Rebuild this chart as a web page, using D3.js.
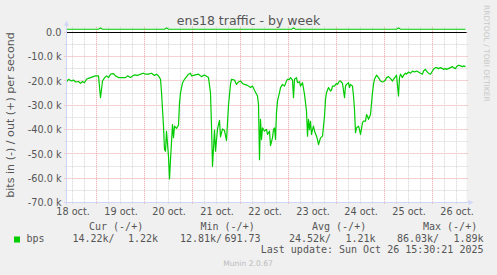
<!DOCTYPE html>
<html>
<head>
<meta charset="utf-8">
<script src="https://cdn.jsdelivr.net/npm/d3@7"></script>
<style>
  body { margin: 0; background: #f0f0f0; }
  svg { display: block; }
</style>
</head>
<body>
<div id="chart"></div>
<script>
// bits in per second, plotted below zero
const inTimes = [
  "2025-10-18 09:00", "2025-10-18 10:00", "2025-10-18 11:30", "2025-10-18 12:30", "2025-10-18 13:30",
  "2025-10-18 15:00", "2025-10-18 16:00", "2025-10-18 17:00", "2025-10-18 18:00", "2025-10-18 19:00",
  "2025-10-18 20:00", "2025-10-18 22:00", "2025-10-18 23:30",
  "2025-10-19 01:00", "2025-10-19 02:00", "2025-10-19 03:00", "2025-10-19 04:00", "2025-10-19 05:00",
  "2025-10-19 06:00", "2025-10-19 07:00", "2025-10-19 08:30", "2025-10-19 09:30", "2025-10-19 11:00",
  "2025-10-19 13:00", "2025-10-19 14:30", "2025-10-19 15:30", "2025-10-19 17:00", "2025-10-19 18:00",
  "2025-10-19 19:00", "2025-10-19 20:30", "2025-10-19 22:00", "2025-10-19 23:30",
  "2025-10-20 00:30", "2025-10-20 02:00", "2025-10-20 03:30", "2025-10-20 05:00", "2025-10-20 06:00",
  "2025-10-20 07:00", "2025-10-20 08:00", "2025-10-20 08:30", "2025-10-20 09:30", "2025-10-20 10:00",
  "2025-10-20 10:30", "2025-10-20 11:00", "2025-10-20 12:00", "2025-10-20 12:30", "2025-10-20 13:00",
  "2025-10-20 14:00", "2025-10-20 14:30", "2025-10-20 15:00", "2025-10-20 16:00", "2025-10-20 17:00",
  "2025-10-20 17:30", "2025-10-20 18:00", "2025-10-20 19:00", "2025-10-20 20:00", "2025-10-20 22:00",
  "2025-10-20 23:00", "2025-10-20 23:30",
  "2025-10-21 01:00", "2025-10-21 03:00", "2025-10-21 04:30", "2025-10-21 06:00", "2025-10-21 08:00",
  "2025-10-21 09:00", "2025-10-21 09:30", "2025-10-21 10:00", "2025-10-21 11:00", "2025-10-21 11:30",
  "2025-10-21 12:30", "2025-10-21 13:30", "2025-10-21 14:00", "2025-10-21 15:00", "2025-10-21 16:00",
  "2025-10-21 17:00", "2025-10-21 18:00", "2025-10-21 19:00", "2025-10-21 19:30", "2025-10-21 21:00",
  "2025-10-21 22:00", "2025-10-21 23:00",
  "2025-10-22 00:00", "2025-10-22 01:00", "2025-10-22 02:00", "2025-10-22 03:30", "2025-10-22 05:00",
  "2025-10-22 06:00", "2025-10-22 07:00", "2025-10-22 08:30", "2025-10-22 09:00", "2025-10-22 09:30",
  "2025-10-22 10:00", "2025-10-22 10:30", "2025-10-22 11:00", "2025-10-22 12:00", "2025-10-22 13:00",
  "2025-10-22 13:30", "2025-10-22 14:30", "2025-10-22 15:00", "2025-10-22 16:00", "2025-10-22 16:30",
  "2025-10-22 17:00", "2025-10-22 17:30", "2025-10-22 18:00", "2025-10-22 18:30", "2025-10-22 19:30",
  "2025-10-22 20:00", "2025-10-22 21:00", "2025-10-22 22:00", "2025-10-22 23:00", "2025-10-22 23:30",
  "2025-10-23 00:30", "2025-10-23 01:00", "2025-10-23 02:00", "2025-10-23 02:30", "2025-10-23 03:00",
  "2025-10-23 04:00", "2025-10-23 04:30", "2025-10-23 05:30", "2025-10-23 06:00", "2025-10-23 07:00",
  "2025-10-23 08:00", "2025-10-23 09:00", "2025-10-23 09:30", "2025-10-23 10:00", "2025-10-23 10:30",
  "2025-10-23 11:00", "2025-10-23 11:30", "2025-10-23 12:00", "2025-10-23 12:30", "2025-10-23 13:00",
  "2025-10-23 14:00", "2025-10-23 14:30", "2025-10-23 15:00", "2025-10-23 15:30", "2025-10-23 16:00",
  "2025-10-23 17:00", "2025-10-23 18:00", "2025-10-23 18:30", "2025-10-23 19:00", "2025-10-23 20:00",
  "2025-10-23 21:00", "2025-10-23 21:30", "2025-10-23 22:00", "2025-10-23 23:00",
  "2025-10-24 00:00", "2025-10-24 00:30", "2025-10-24 01:30", "2025-10-24 02:00", "2025-10-24 03:00",
  "2025-10-24 04:00", "2025-10-24 04:30", "2025-10-24 05:00", "2025-10-24 06:00", "2025-10-24 06:30",
  "2025-10-24 07:00", "2025-10-24 08:00", "2025-10-24 08:30", "2025-10-24 09:00", "2025-10-24 09:30",
  "2025-10-24 10:00", "2025-10-24 11:00", "2025-10-24 11:30", "2025-10-24 12:00", "2025-10-24 13:00",
  "2025-10-24 13:30", "2025-10-24 14:30", "2025-10-24 15:00", "2025-10-24 15:30", "2025-10-24 16:00",
  "2025-10-24 17:00", "2025-10-24 18:00", "2025-10-24 18:30", "2025-10-24 19:00", "2025-10-24 20:00",
  "2025-10-24 21:00", "2025-10-24 22:00", "2025-10-24 23:00", "2025-10-24 23:30",
  "2025-10-25 00:30", "2025-10-25 01:00", "2025-10-25 02:00", "2025-10-25 03:00", "2025-10-25 04:00",
  "2025-10-25 04:30", "2025-10-25 05:30", "2025-10-25 06:00", "2025-10-25 07:00", "2025-10-25 07:30",
  "2025-10-25 08:00", "2025-10-25 09:00", "2025-10-25 09:30", "2025-10-25 10:30", "2025-10-25 11:00",
  "2025-10-25 12:00", "2025-10-25 13:00", "2025-10-25 14:00", "2025-10-25 15:00", "2025-10-25 16:00",
  "2025-10-25 17:00", "2025-10-25 18:00", "2025-10-25 19:00", "2025-10-25 19:30", "2025-10-25 20:30",
  "2025-10-25 21:00", "2025-10-25 22:00", "2025-10-25 23:00",
  "2025-10-26 00:00", "2025-10-26 00:30", "2025-10-26 01:30", "2025-10-26 02:00", "2025-10-26 03:00",
  "2025-10-26 04:00", "2025-10-26 05:00", "2025-10-26 05:30", "2025-10-26 06:30", "2025-10-26 07:00",
  "2025-10-26 08:00", "2025-10-26 09:00", "2025-10-26 10:00", "2025-10-26 10:30", "2025-10-26 11:30",
  "2025-10-26 12:00", "2025-10-26 13:00", "2025-10-26 14:00", "2025-10-26 15:00", "2025-10-26 15:30",
  "2025-10-26 16:30"
];
const inValues = [
  20400, 19300, 20000, 19600, 20400, 20200, 21000, 20200, 20700, 19300, 18900, 18300, 17900,
  17900, 26900, 20000, 18700, 17900, 18600, 17200, 17000, 17900, 18600, 18600, 18600, 17900, 18600, 17900,
  17500, 17700, 17200, 16800,
  17200, 17200, 16800, 17700, 17200, 17900, 19300, 24500, 38600, 48200, 48900, 40700, 51000, 60300, 52400,
  37900, 43300, 38600, 39500, 38200, 29000, 24900, 20800, 19300, 17200, 16800, 17900,
  17600, 17200, 18200, 17500, 18600, 24900, 38600, 55100, 40200, 48900, 39700, 36200, 43000, 39700, 40400,
  44500, 30000, 21400, 19300, 19600, 21400, 20400,
  20000, 21000, 21400, 21800, 22700, 22100, 23800, 26200, 29600, 52400, 35800, 44100, 39300, 40600, 39900,
  42000, 40600, 46600, 43300, 40000, 39300, 44000, 33000, 28300, 24800, 22700, 21400, 22100, 20000, 19300,
  19300, 18600, 19600, 26900, 19300, 18600, 20700, 20300, 22100, 20700, 25500, 32400, 42700, 35800, 40000,
  36600, 42000, 40000, 38600, 40600, 42700, 44100, 46200, 44800, 43400, 42700, 34500, 27600, 24800, 22700,
  24100, 23700, 22100, 22100,
  21000, 21400, 20000, 20000, 21000, 26900, 22100, 21400, 20700, 22700, 21400, 22100, 26200, 31700, 41300,
  39300, 38600, 40000, 42000, 37200, 36500, 36500, 33800, 34500, 35800, 33800, 24800, 21400, 19300, 17600,
  18600, 20000, 20400, 20300,
  19600, 18600, 18200, 19000, 20000, 19300, 18200, 17600, 26200, 18600, 17200, 18600, 17600, 16800, 17200,
  16300, 16800, 15900, 16300, 15900, 16300, 16800, 17200, 15900, 15200, 15900, 16800, 17200,
  15900, 15200, 14500, 14500, 14900, 14500, 14900, 15200, 14900, 15200, 14900, 14500, 14100, 14500, 14900,
  14100, 13500, 13800, 14100, 13800, 14100
];

// bits out per second, plotted above zero
const outTimes = [
  "2025-10-18 09:00", "2025-10-19 01:00", "2025-10-19 02:00", "2025-10-19 03:00",
  "2025-10-20 10:00", "2025-10-20 11:00", "2025-10-20 12:00",
  "2025-10-23 01:30", "2025-10-23 02:30", "2025-10-23 03:30",
  "2025-10-25 06:00", "2025-10-25 07:00", "2025-10-25 08:00", "2025-10-26 16:30"
];
const outValues = [1300, 1300, 1800, 1300, 1300, 1800, 1300, 1300, 1800, 1300, 1300, 1800, 1300, 1300];

const yTicks = [0, -10000, -20000, -30000, -40000, -50000, -60000, -70000];
const yTickLabels = ["0.0", "-10.0 k", "-20.0 k", "-30.0 k", "-40.0 k", "-50.0 k", "-60.0 k", "-70.0 k"];
const dayNoons = ["2025-10-18 12:00", "2025-10-19 12:00", "2025-10-20 12:00", "2025-10-21 12:00", "2025-10-22 12:00",
  "2025-10-23 12:00", "2025-10-24 12:00", "2025-10-25 12:00", "2025-10-26 12:00"];
const dayLabels = ["18 oct.", "19 oct.", "20 oct.", "21 oct.", "22 oct.", "23 oct.", "24 oct.", "25 oct.", "26 oct."];

const legendHeaders = ["Cur (-/+)", "Min (-/+)", "Avg (-/+)", "Max (-/+)"];
const legendIn = ["14.22k/", "12.81k/", "24.52k/", "86.03k/"];
const legendOut = ["1.22k", "691.73", "1.21k", "1.89k"];

const parse = d3.timeParse("%Y-%m-%d %H:%M");
const inData = inTimes.map((t, i) => ({ t: parse(t), v: -inValues[i] }));
const outData = outTimes.map((t, i) => ({ t: parse(t), v: outValues[i] }));

const w = 497, h = 275;
const green = "#00cc00";
const font = "'DejaVu Sans', sans-serif";
const mono = "'DejaVu Sans Mono', monospace";
const textColor = "#555555";

const svg = d3.select("#chart").append("svg")
  .attr("width", w).attr("height", h)
  .style("background", "#f0f0f0");

const x = d3.scaleTime()
  .domain([parse("2025-10-18 09:00"), parse("2025-10-26 17:00")])
  .range([66.5, 466.5]);
const y = d3.scaleLinear()
  .domain([-70000, 1500])
  .range([202.5, 28.75]);

const x0 = 66.5, x1 = 466.5, yb = 202.5, yt = 28.75;
const crisp = v => Math.floor(v) + 0.5;

// canvas
svg.append("rect")
  .attr("x", x0).attr("y", yt)
  .attr("width", x1 - x0).attr("height", yb - yt)
  .attr("fill", "#ffffff");

// grid
const grid = svg.append("g").attr("stroke-width", 1).attr("stroke-dasharray", "1,1").attr("fill", "none");
const hLines = d3.range(-70000, 1, 5000);
grid.selectAll(".hgrid")
  .data(hLines)
  .enter()
  .append("line")
  .attr("x1", x0 - 2).attr("x2", x1 + 2)
  .attr("y1", d => crisp(y(d))).attr("y2", d => crisp(y(d)))
  .attr("stroke", d => d % 10000 === 0 ? "#eba3a3" : "#d2d2d2");

const vLines = d3.timeHour.every(6).range(x.domain()[0], x.domain()[1]);
grid.selectAll(".vgrid")
  .data(vLines)
  .enter()
  .append("line")
  .attr("x1", d => crisp(x(d))).attr("x2", d => crisp(x(d)))
  .attr("y1", yt - 2).attr("y2", yb + 2)
  .attr("stroke", d => d.getHours() === 0 ? "#eba3a3" : "#d2d2d2");

// zero rule
svg.append("line")
  .attr("x1", x0).attr("x2", x1)
  .attr("y1", crisp(y(0))).attr("y2", crisp(y(0)))
  .attr("stroke", "#000000").attr("stroke-width", 1);

// series
const line = d3.line().x(d => x(d.t)).y(d => y(d.v));
svg.append("path")
  .datum(outData)
  .attr("d", line)
  .attr("fill", "none")
  .attr("stroke", green)
  .attr("stroke-width", 1.2);
svg.append("path")
  .datum(inData)
  .attr("d", line)
  .attr("fill", "none")
  .attr("stroke", green)
  .attr("stroke-width", 1.2)
  .attr("stroke-linejoin", "round");

// axes with arrows
const axisColor = "#cfd6f8";
svg.append("line")
  .attr("x1", x0 - 0.5 + 0.5).attr("x2", x0)
  .attr("y1", yb + 2).attr("y2", yt - 4)
  .attr("stroke", axisColor);
svg.append("line")
  .attr("x1", x0 - 2).attr("x2", x1 + 4)
  .attr("y1", yb).attr("y2", yb)
  .attr("stroke", axisColor);
svg.append("path")
  .attr("d", `M${x0 - 2.5},${yt - 3} L${x0 + 2.5},${yt - 3} L${x0},${yt - 8} Z`)
  .attr("fill", axisColor);
svg.append("path")
  .attr("d", `M${x1 + 2},${yb - 2.5} L${x1 + 2},${yb + 2.5} L${x1 + 7},${yb} Z`)
  .attr("fill", axisColor);

// y tick labels
svg.append("g")
  .attr("transform", `translate(${x0 - 5},0)`)
  .call(d3.axisLeft(y).tickValues(yTicks).tickSize(0).tickPadding(0)
    .tickFormat((d, i) => yTickLabels[i]))
  .call(g => g.select(".domain").remove())
  .call(g => g.selectAll("text")
    .attr("fill", textColor)
    .style("font-family", font)
    .style("font-size", "9.7px"));

// x tick labels
svg.append("g")
  .attr("transform", `translate(0,${yb + 6})`)
  .call(d3.axisBottom(x).tickValues(dayNoons.map(parse)).tickSize(0).tickPadding(0)
    .tickFormat((d, i) => dayLabels[i]))
  .call(g => g.select(".domain").remove())
  .call(g => g.selectAll("text")
    .attr("fill", textColor)
    .style("font-family", font)
    .style("font-size", "9.7px"));

// title
svg.append("text")
  .attr("x", 248.5).attr("y", 24.5)
  .attr("text-anchor", "middle")
  .attr("fill", textColor)
  .style("font-family", font)
  .style("font-size", "12.5px")
  .text("ens18 traffic - by week");

// vertical label
svg.append("text")
  .attr("transform", "translate(13.5,115) rotate(-90)")
  .attr("text-anchor", "middle")
  .attr("fill", textColor)
  .style("font-family", font)
  .style("font-size", "11.1px")
  .text("bits in (-) / out (+) per second");

// watermark
svg.append("text")
  .attr("transform", "translate(484,5) rotate(90)")
  .attr("fill", "#c8c8c8")
  .style("font-family", font)
  .style("font-size", "7.5px")
  .text("RRDTOOL / TOBI OETIKER");

// legend
const headX = [89, 200.5, 312, 423];
const inX = [72.5, 180, 289, 397];
const outX = [158, 260.5, 375.5, 483.5];
const legend = svg.append("g")
  .attr("fill", textColor)
  .style("font-family", mono)
  .style("font-size", "10px")
  .attr("xml:space", "preserve");

legend.selectAll(".head")
  .data(legendHeaders)
  .enter()
  .append("text")
  .attr("x", (d, i) => headX[i]).attr("y", 230)
  .text(d => d);

legend.append("rect")
  .attr("x", 14).attr("y", 236.5)
  .attr("width", 6).attr("height", 6)
  .attr("fill", green);
legend.append("text")
  .attr("x", 26.5).attr("y", 241.5)
  .text("bps");

legend.selectAll(".vin")
  .data(legendIn)
  .enter()
  .append("text")
  .attr("x", (d, i) => inX[i]).attr("y", 241.5)
  .text(d => d);
legend.selectAll(".vout")
  .data(legendOut)
  .enter()
  .append("text")
  .attr("x", (d, i) => outX[i]).attr("y", 241.5)
  .attr("text-anchor", "end")
  .text(d => d);

legend.append("text")
  .attr("x", 483.5).attr("y", 252.5)
  .attr("text-anchor", "end")
  .text("Last update: Sun Oct 26 15:30:21 2025");

svg.append("text")
  .attr("x", 248).attr("y", 266)
  .attr("text-anchor", "middle")
  .attr("fill", "#bbbbbb")
  .style("font-family", font)
  .style("font-size", "7.6px")
  .text("Munin 2.0.67");
</script>
</body>
</html>
